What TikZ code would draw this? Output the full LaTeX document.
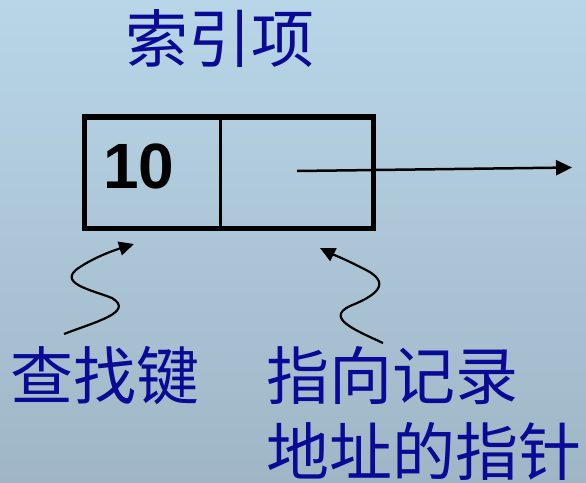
\documentclass[tikz,border=0pt]{standalone}
\usepackage{fontspec}
\newfontfamily\cjk{Noto Sans CJK SC}
\setmainfont{Liberation Sans}
\usetikzlibrary{arrows.meta}
\definecolor{bgtop}{HTML}{B8D6E8}
\definecolor{bgbot}{HTML}{A0B6C6}
\definecolor{navy}{HTML}{0A0A96}
\tikzset{
  cjklabel/.style={inner sep=0pt, text=navy, font=\cjk\fontsize{63}{63}\selectfont},
  wavy/.style={line width=2.2pt, -{Triangle[length=15pt,width=14pt]}},
}
\begin{document}
\begin{tikzpicture}[x=1pt,y=-1pt]
\shade[top color=bgtop, bottom color=bgbot] (0,0) rectangle (586,482);
\useasboundingbox (0,0) rectangle (586,482);
% title
\node[cjklabel] (title) at (220,39) {索引项};
% record box
\draw[line width=5.5pt] (84.5,117) rectangle (373.7,228.5);
\draw[line width=2.5pt] (220.5,117) -- (220.5,228.5);
\node[inner sep=0pt, font=\bfseries\fontsize{64}{64}\selectfont] (key) at (139,166) {10};
% pointer arrow
\coordinate (pstart) at (297,171);
\coordinate (pend) at (572,167.5);
\draw[line width=2.5pt, -{Triangle[length=16pt,width=15pt]}] (pstart) -- (pend);
% labels
\node[cjklabel] (lkey) at (105,375.5) {查找键};
\node[cjklabel, anchor=west] (lptr1) at (266,375.5) {指向记录};
\node[cjklabel, anchor=west] (lptr2) at (266,451.5) {地址的指针};
% wavy arrows
\coordinate (w1s) at (64,334);
\coordinate (w1e) at (134,244);
\draw[wavy] (w1s) .. controls (95,322) and (135,312) .. (112,298)
   .. controls (92,290) and (55,283) .. (80,267)
   .. controls (97,256) and (115,250) .. (w1e);
\coordinate (w2s) at (383,343);
\coordinate (w2e) at (320,248);
\draw[wavy] (w2s) .. controls (355,330) and (325,318) .. (350,306)
   .. controls (375,296) and (395,283) .. (362,268)
   .. controls (347,260) and (332,254) .. (w2e);
\end{tikzpicture}
\end{document}
